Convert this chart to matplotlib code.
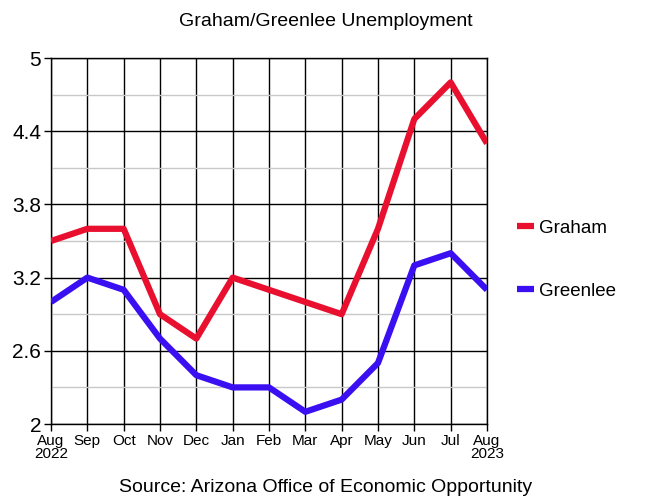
import matplotlib.pyplot as plt

plt.rcParams["font.family"] = ["Liberation Sans", "DejaVu Sans"]

months = ["Aug\n2022", "Sep", "Oct", "Nov", "Dec", "Jan", "Feb", "Mar", "Apr",
          "May", "Jun", "Jul", "Aug\n2023"]
graham = [3.5, 3.6, 3.6, 2.9, 2.7, 3.2, 3.1, 3.0, 2.9, 3.6, 4.5, 4.8, 4.3]
greenlee = [3.0, 3.2, 3.1, 2.7, 2.4, 2.3, 2.3, 2.1, 2.2, 2.5, 3.3, 3.4, 3.1]
y_major = [2, 2.6, 3.2, 3.8, 4.4, 5]
y_labels = ["2", "2.6", "3.2", "3.8", "4.4", "5"]
y_minor = [2.3, 2.9, 3.5, 4.1, 4.7]

fig = plt.figure(figsize=(6.48, 5.0), dpi=100)
ax = fig.add_axes([0.0787, 0.152, 0.6728, 0.732])

x = list(range(len(months)))
ax.plot(x, graham, color="#e8102e", lw=4.5, solid_capstyle="butt", label="Graham", zorder=3)
ax.plot(x, greenlee, color="#3a0ff2", lw=4.5, solid_capstyle="butt", label="Greenlee", zorder=3)

ax.set_xlim(0, len(months) - 1)
ax.set_ylim(2, 5)
ax.set_xticks(x)
ax.set_xticklabels(months, fontsize=11, linespacing=0.95)
ax.set_yticks(y_major)
ax.set_yticklabels(y_labels, fontsize=15)
ax.set_yticks(y_minor, minor=True)
ax.tick_params(axis="x", length=5, width=1, pad=2)
ax.tick_params(axis="y", which="major", length=5, width=1, pad=2)
ax.tick_params(axis="y", which="minor", length=0)

ax.grid(True, which="major", color="black", lw=1, zorder=0)
ax.grid(True, which="minor", axis="y", color="#c8c8c8", lw=1, zorder=0)
for s in ax.spines.values():
    s.set_color("black")
    s.set_linewidth(1)

fig.text(0.503, 0.957, "Graham/Greenlee Unemployment", ha="center", va="center",
         fontsize=14)

ax.legend(loc="upper left", bbox_to_anchor=(1.03, 0.605), frameon=False,
          fontsize=13.5, handlelength=0.9, handletextpad=0.3, labelspacing=2.45)

fig.text(0.503, 0.026, "Source: Arizona Office of Economic Opportunity", ha="center",
         va="center", fontsize=14)

fig.savefig("out.png", dpi=100)
